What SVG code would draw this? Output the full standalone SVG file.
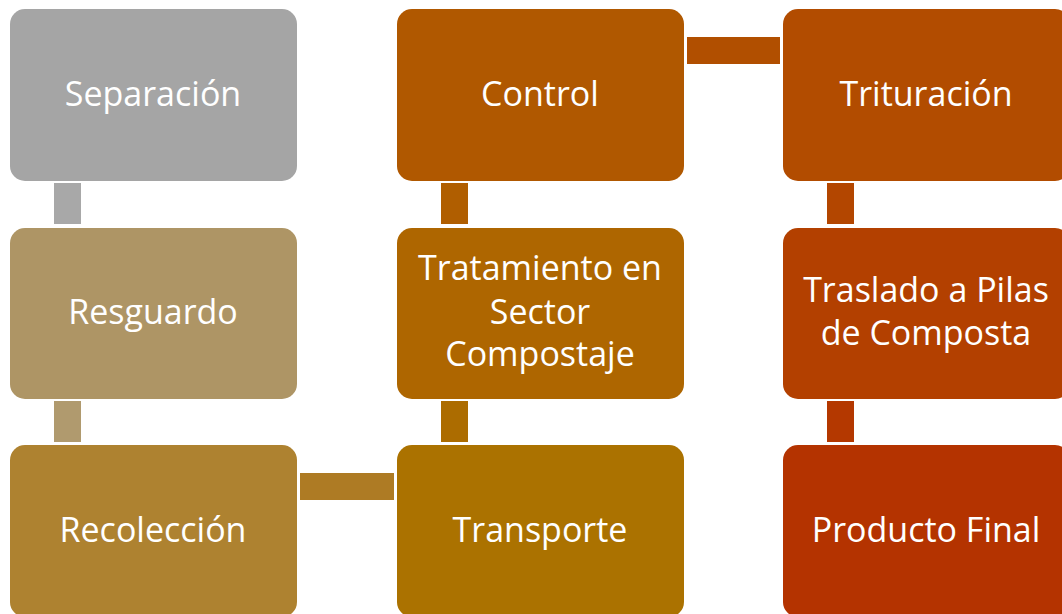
<svg xmlns="http://www.w3.org/2000/svg" width="1062" height="614" viewBox="0 0 1062 614">
<style>
.box{stroke:none}
.t{font-family:"Open Sans","Noto Sans","Liberation Sans",sans-serif;font-size:34px;fill:#ffffff;text-anchor:middle}
</style>
<rect width="1062" height="614" fill="#ffffff"/>
<g id="connectors">
<rect x="54" y="183" width="27" height="41" fill="#A8A8A8"/>
<rect x="54" y="401" width="27" height="41" fill="#B09A6E"/>
<rect x="300" y="473" width="94" height="27" fill="#AE7B24"/>
<rect x="441" y="401" width="27" height="41" fill="#AC6C00"/>
<rect x="441" y="183" width="27" height="41" fill="#B05E00"/>
<rect x="687" y="37" width="93" height="27" fill="#B14F00"/>
<rect x="827" y="183" width="27" height="41" fill="#B34600"/>
<rect x="827" y="401" width="27" height="41" fill="#B43800"/>
</g>
<g id="n1"><rect class="box" x="10" y="9" width="287" height="172" rx="15" fill="#A5A5A5"/><text class="t" x="153" y="106">Separación</text></g>
<g id="n2"><rect class="box" x="10" y="228" width="287" height="171" rx="15" fill="#AE9565"/><text class="t" x="153" y="324">Resguardo</text></g>
<g id="n3"><rect class="box" x="10" y="445" width="287" height="172" rx="15" fill="#AE8230"/><text class="t" x="153" y="542">Recolección</text></g>
<g id="n4"><rect class="box" x="397" y="445" width="287" height="172" rx="15" fill="#AB7200"/><text class="t" x="540" y="542">Transporte</text></g>
<g id="n5"><rect class="box" x="397" y="228" width="287" height="171" rx="15" fill="#AE6600"/><text class="t" x="540" y="280">Tratamiento en</text><text class="t" x="540" y="324">Sector</text><text class="t" x="540" y="366">Compostaje</text></g>
<g id="n6"><rect class="box" x="397" y="9" width="287" height="172" rx="15" fill="#B05800"/><text class="t" x="540" y="106">Control</text></g>
<g id="n7"><rect class="box" x="783" y="9" width="287" height="172" rx="15" fill="#B24C00"/><text class="t" x="926" y="106">Trituración</text></g>
<g id="n8"><rect class="box" x="783" y="228" width="287" height="171" rx="15" fill="#B34000"/><text class="t" x="926" y="302">Traslado a Pilas</text><text class="t" x="926" y="345">de Composta</text></g>
<g id="n9"><rect class="box" x="783" y="445" width="287" height="172" rx="15" fill="#B43300"/><text class="t" x="926" y="542">Producto Final</text></g>
</svg>
